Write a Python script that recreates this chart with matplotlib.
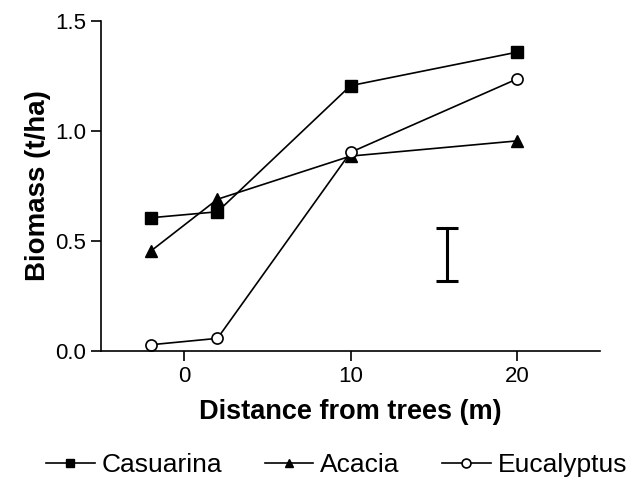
import numpy as np
import matplotlib
matplotlib.use("Agg")
from matplotlib import pyplot as plt

# ============================================================================
# DATA - biomass at each distance from the tree line
# ============================================================================
distance = [-2, 2, 10, 20]
casuarina = [0.606, 0.633, 1.206, 1.358]
acacia = [0.455, 0.690, 0.886, 0.955]
eucalyptus = [0.029, 0.058, 0.903, 1.236]
xTicks = [0, 10, 20]
yTicks = [0.0, 0.5, 1.0, 1.5]

# pooled error bar (LSD style), drawn at the side of the plot
errX = 15.8
errY = 0.44
errHalf = 0.12

plt.rcParams['font.family'] = ['Liberation Sans', 'DejaVu Sans']

fig = plt.figure(figsize=(6.37, 4.87), dpi=100)
ax = fig.add_axes([0.1586, 0.279, 0.7834, 0.678])

lineStyle = dict(color="black", linewidth=1.2, clip_on=False)
ax.plot(distance, casuarina, marker="s", markersize=8, markerfacecolor="black",
        markeredgecolor="black", label="Casuarina", **lineStyle)
ax.plot(distance, acacia, marker="^", markersize=8, markerfacecolor="black",
        markeredgecolor="black", label="Acacia", **lineStyle)
ax.plot(distance, eucalyptus, marker="o", markersize=8, markerfacecolor="white",
        markeredgecolor="black", markeredgewidth=1.2, label="Eucalyptus", **lineStyle)

ax.errorbar([errX], [errY], yerr=[errHalf], fmt="none", ecolor="black",
            elinewidth=2.2, capsize=8, capthick=2.2)

ax.set_xlim(-5, 25)
ax.set_ylim(0, 1.5)
ax.set_xticks(xTicks)
ax.set_yticks(yTicks)
ax.set_yticklabels(["%.1f" % v for v in yTicks])
ax.spines["top"].set_visible(False)
ax.spines["right"].set_visible(False)
for s in ["left", "bottom"]:
    ax.spines[s].set_linewidth(1.2)
ax.tick_params(direction="out", length=7, width=1.2, labelsize=16, pad=4)

ax.set_xlabel("Distance from trees (m)", fontsize=19.5, fontweight="bold", labelpad=8)
ax.set_ylabel("Biomass (t/ha)", fontsize=20, fontweight="bold", labelpad=3)

ax.legend(loc="center", bbox_to_anchor=(0.472, -0.345), ncol=3, frameon=False,
          fontsize=19, handlelength=1.85, columnspacing=1.6, handletextpad=0.26,
          markerscale=0.8)

fig.savefig("out.png", dpi=100)
